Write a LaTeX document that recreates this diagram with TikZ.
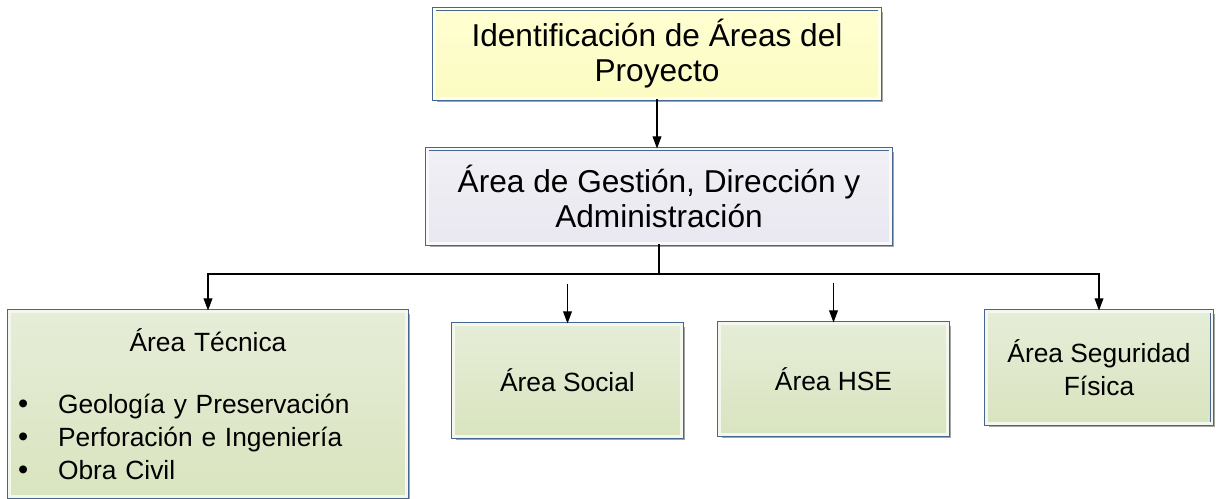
\documentclass[tikz,border=0pt]{standalone}
\usepackage{fontspec}
\setmainfont{Liberation Sans}
\usepackage{tikz}
\usetikzlibrary{positioning,arrows.meta,shadows}

\definecolor{boxline}{HTML}{44668F}
\definecolor{yellowtop}{HTML}{FFFFD2}
\definecolor{yellowbot}{HTML}{FBFBC2}
\definecolor{lilactop}{HTML}{F1F0F5}
\definecolor{lilacbot}{HTML}{E9E7F0}
\definecolor{greentop}{HTML}{E6EDD8}
\definecolor{greenbot}{HTML}{D9E4BF}

\newcommand{\areaitem}[1]{\makebox[\linewidth][l]{\hspace{0.03cm}\makebox[0.8cm][l]{\fontsize{16.5}{18.7}\selectfont\textbullet}#1}}

\begin{document}
\begin{tikzpicture}[x=0.02cm,y=-0.02cm]
	\tikzset{
		areabox/.style={draw=boxline,line width=0.5pt,double=white!55!greentop,double distance=1.7pt,
			top color=greentop,bottom color=greenbot,align=center,inner sep=0.15cm,
			drop shadow={shadow xshift=0.06cm,shadow yshift=-0.06cm,fill=black!35,opacity=1},
			font=\fontsize{15}{18.7}\selectfont},
		headbox/.style={areabox,font=\fontsize{18}{20}\selectfont},
		link/.style={line width=0.8pt,-{Triangle[length=7pt,width=5pt]}}
	}
	\useasboundingbox (0,0) rectangle (1216,499);

	%% head of the chart
	\node[headbox,top color=yellowtop,bottom color=yellowbot,double=white!60!yellowtop,
		minimum width=8.92cm,minimum height=1.8cm] (ident) at (657,54)
		{Identificación de Áreas del\\Proyecto};
	\node[headbox,top color=lilactop,bottom color=lilacbot,double=white!60!lilactop,
		minimum width=9.28cm,minimum height=1.9cm] (gestion) at (659,196.5)
		{Área de Gestión, Dirección y\\Administración};

	%% areas
	\node[areabox,minimum width=7.96cm,minimum height=3.72cm,text width=7.66cm] (tecnica) at (208,404)
		{Área Técnica\\[17pt]
		\areaitem{Geología y Preservación}\\
		\areaitem{Perforación e Ingeniería}\\
		\areaitem{Obra Civil}};
	\node[areabox,minimum width=4.58cm,minimum height=2.26cm] (social) at (567.5,380.5) {Área Social};
	\node[areabox,minimum width=4.58cm,minimum height=2.24cm] (hse) at (833.5,379) {Área HSE};
	\node[areabox,minimum width=4.52cm,minimum height=2.26cm] (seguridad) at (1099,367.5)
		{Área Seguridad\\Física};

	%% connectors
	\coordinate (bus) at (659,274);
	\coordinate (socialin) at ([yshift=0.8cm]social.north);
	\coordinate (hsein) at ([yshift=0.8cm]hse.north);
	\draw[link] (ident.south) -- (ident.south |- gestion.north);
	\draw[line width=0.8pt] (gestion.south) -- (bus);
	\draw[link] (bus) -| (tecnica.north);
	\draw[link] (bus) -| (seguridad.north);
	\draw[link] (socialin) -- (social.north);
	\draw[link] (hsein) -- (hse.north);
\end{tikzpicture}
\end{document}
